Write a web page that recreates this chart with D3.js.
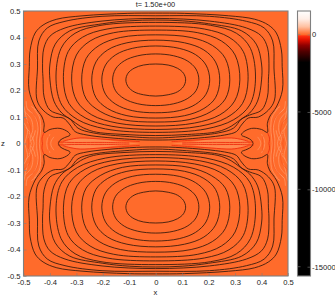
<!DOCTYPE html>
<html>
<head>
<meta charset="utf-8">
<script src="https://cdn.jsdelivr.net/npm/d3@7"></script>
<style>
  html, body { margin: 0; padding: 0; background: #fff; }
  text { font-family: "Liberation Sans", sans-serif; font-size: 7.6px; fill: #222; }
</style>
</head>
<body>
<div id="wrapper"></div>
<script>
// values, one quadrant as [|x|, z], top of loop round to bottom of loop
const loop1 = [[0,.300],[.047,.296],[.082,.284],[.105,.265],[.113,.24],[.105,.215],[.082,.195],[.047,.184],[0,.179]]
const loop2 = [[0,.338],[.068,.331],[.119,.312],[.152,.281],[.163,.24],[.152,.199],[.119,.169],[.068,.15],[0,.143]]
const loop3 = [[0,.368],[.089,.359],[.151,.335],[.19,.296],[.204,.24],[.19,.186],[.151,.148],[.089,.124],[0,.116]]
const loop4 = [[0,.390],[.109,.38],[.182,.353],[.226,.308],[.242,.24],[.226,.173],[.182,.132],[.109,.105],[0,.096]]
const loop5 = [[0,.410],[.134,.40],[.214,.37],[.263,.321],[.28,.24],[.263,.168],[.21,.121],[.126,.09],[0,.081]]
const loop6 = [[0,.428],[.159,.418],[.248,.387],[.30,.334],[.318,.24],[.298,.16],[.242,.108],[.146,.077],[0,.066]]
const loop7 = [[0,.443],[.184,.432],[.277,.401],[.331,.347],[.349,.24],[.328,.151],[.267,.097],[.166,.065],[0,.053]]
const loop8 = [[0,.457],[.207,.446],[.305,.416],[.358,.359],[.377,.24],[.355,.145],[.295,.09],[.19,.055],[0,.042]]
const loop9 = [[0,.466],[.10,.463],[.20,.452],[.325,.425],[.38,.375],[.40,.30],[.40,.24],[.385,.16],[.355,.115],[.32,.09],[.285,.065],[.235,.045],[.12,.034],[0,.030]]
const loop10 = [[0,.472],[.203,.462],[.343,.436],[.40,.405],[.423,.36],[.428,.285],[.426,.243],[.422,.175],[.40,.126],[.354,.107],[.324,.092],[.294,.058],[.237,.04],[.10,.026],[0,.021]]
const loop11 = [[0,.482],[.203,.48],[.343,.461],[.41,.436],[.442,.387],[.447,.285],[.449,.164],[.426,.126],[.388,.10],[.35,.096],[.324,.07],[.305,.045],[.26,.032],[.10,.016],[0,.013]]
const closedLoops = [loop1, loop2, loop3, loop4, loop5, loop6, loop7, loop8, loop9, loop10, loop11]

// outermost line runs over the vortex head and ends in the C of the curl on z=0
const outerLine = [[0,.492],[.108,.491],[.275,.482],[.374,.469],[.426,.447],[.456,.417],[.475,.353],[.478,.29],[.479,.202],[.456,.138],[.43,.10],[.422,.075],[.422,.042],[.40,.053],[.362,.057],[.331,.043],[.324,.032],[.345,.022],[.362,.012],[.368,0]]

// pale filaments in the side regions
const paleFilaments = [
  [[.495,.12],[.47,.09],[.465,.05],[.475,.02],[.47,0]],
  [[.485,.13],[.455,.10],[.445,.06],[.45,.02],[.45,0]],
  [[.46,.13],[.44,.10],[.435,.06],[.438,.025],[.44,0]],
  [[.5,.08],[.485,.05],[.49,.02],[.495,0]],
  [[.48,.04],[.465,.02],[.46,0]],
  [[.40,.035],[.41,.015],[.412,0]],
  [[.385,.025],[.395,.01],[.397,0]],
  [[.498,.14],[.49,.10],[.482,.075]],
  [[.47,.14],[.45,.125]],
  [[.49,.16],[.485,.13],[.465,.115]],
  [[.492,.06],[.475,.04],[.482,.02]],
  [[.455,.05],[.46,.03],[.47,.01]]
]
const darkFilaments = [
  [[.50,.10],[.478,.075],[.472,.045],[.482,.015],[.48,0]],
  [[.475,.125],[.448,.09],[.44,.05],[.444,.015],[.445,0]],
  [[.405,.03],[.403,.012],[.405,0]],
  [[.455,.14],[.432,.11],[.43,.07]]
]
// red edges: head of the vortex and the jet
const redFilaments = [
  [[.422,.042],[.43,.02],[.428,0]],
  [[.35,.008],[.33,.014],[.286,.021],[.21,.017],[.13,.012],[.06,.007]],
  [[.37,.006],[.32,.004],[.20,.004],[.10,.002]]
]
const jetBand = [[.35,0],[.35,.008],[.33,.014],[.286,.02],[.21,.016],[.13,.006],[.06,0]]

const xTicks = [-0.5, -0.4, -0.3, -0.2, -0.1, 0, 0.1, 0.2, 0.3, 0.4, 0.5]
const zTicks = [-0.5, -0.4, -0.3, -0.2, -0.1, 0, 0.1, 0.2, 0.3, 0.4, 0.5]
const barTicks = [0, -5000, -10000, -15000]
const barValues = [1520, 1000, 500, 100, 0, -100, -350, -700, -1100, -1800, -15600]
const barColors = ["#ffffff", "#ffeee6", "#ffc0a0", "#ff7a40", "#ff6b2b", "#ff3010", "#e01000", "#900000", "#500000", "#000000", "#000000"]

const title = "t=  1.50e+00"

const dimensions = {
  width: 335, height: 296,
  left: 23.5, right: 288, top: 11, bottom: 276,
  barLeft: 297.5, barRight: 310.5,
}

const svg = d3.select("#wrapper").append("svg")
  .attr("width", dimensions.width)
  .attr("height", dimensions.height)
  .style("display", "block")

const xScale = d3.scaleLinear().domain([-0.5, 0.5]).range([dimensions.left, dimensions.right])
const zScale = d3.scaleLinear().domain([-0.5, 0.5]).range([dimensions.bottom, dimensions.top])
const barScale = d3.scaleLinear().domain([1520, -15600]).range([dimensions.top, dimensions.bottom])

svg.append("clipPath").attr("id", "plot-clip").append("rect")
  .attr("x", dimensions.left).attr("y", dimensions.top)
  .attr("width", dimensions.right - dimensions.left)
  .attr("height", dimensions.bottom - dimensions.top)

const plot = svg.append("g").attr("clip-path", "url(#plot-clip)")

plot.append("rect")
  .attr("x", dimensions.left).attr("y", dimensions.top)
  .attr("width", dimensions.right - dimensions.left)
  .attr("height", dimensions.bottom - dimensions.top)
  .attr("fill", "#ff6b2b")

const openLine = d3.line().x(d => xScale(d[0])).y(d => zScale(d[1])).curve(d3.curveCatmullRom.alpha(0.5))
const closedLine = d3.line().x(d => xScale(d[0])).y(d => zScale(d[1])).curve(d3.curveCatmullRomClosed.alpha(0.5))
const bandArea = d3.line().x(d => xScale(d[0])).y(d => zScale(d[1])).curve(d3.curveLinearClosed)

// the picture is close to symmetric about both axes
const flips = [[1, 1], [-1, 1], [1, -1], [-1, -1]]
const flipped = (pts, [sx, sz]) => pts.map(d => [d[0] * sx, d[1] * sz])

const drawFilaments = (list, flip, color, width) => {
  list.forEach(f => {
    plot.append("path").attr("d", openLine(flipped(f, flip)))
      .attr("fill", "none").attr("stroke", color).attr("stroke-width", width)
  })
}

flips.forEach(flip => {
  plot.append("path").attr("d", bandArea(flipped(jetBand, flip))).attr("fill", "#ff8a50")
  drawFilaments(paleFilaments, flip, "#ff9c6c", 0.7)
  drawFilaments(darkFilaments, flip, "#f5501c", 0.6)
  drawFilaments(redFilaments, flip, "#ee3010", 0.9)
})

// each loop closes over one half of the box: left quadrant, then the right one backwards
const contourStyle = path => path
  .attr("fill", "none")
  .attr("stroke", "#33190c")
  .attr("stroke-width", 0.85)

;[1, -1].forEach(sz => {
  closedLoops.forEach(loop => {
    const left = flipped(loop, [-1, sz])
    const right = flipped(loop, [1, sz]).slice(1, -1).reverse()
    plot.append("path").attr("d", closedLine([...left, ...right])).call(contourStyle)
  })
  const outerLeft = flipped(outerLine, [-1, sz]).reverse()
  const outerRight = flipped(outerLine, [1, sz]).slice(1)
  plot.append("path").attr("d", openLine([...outerLeft, ...outerRight])).call(contourStyle)
})

// colour bar
const gradient = svg.append("defs").append("linearGradient")
  .attr("id", "bar-gradient").attr("x1", 0).attr("x2", 0).attr("y1", 0).attr("y2", 1)
barValues.forEach((v, i) => {
  gradient.append("stop")
    .attr("offset", (barScale(v) - dimensions.top) / (dimensions.bottom - dimensions.top))
    .attr("stop-color", barColors[i])
})
svg.append("rect")
  .attr("x", dimensions.barLeft).attr("y", dimensions.top)
  .attr("width", dimensions.barRight - dimensions.barLeft)
  .attr("height", dimensions.bottom - dimensions.top)
  .attr("fill", "url(#bar-gradient)")

// frames
const frameColor = "#808080"
svg.append("rect")
  .attr("x", dimensions.left).attr("y", dimensions.top)
  .attr("width", dimensions.right - dimensions.left)
  .attr("height", dimensions.bottom - dimensions.top)
  .attr("fill", "none").attr("stroke", frameColor).attr("stroke-width", 1.1)
svg.append("rect")
  .attr("x", dimensions.barLeft).attr("y", dimensions.top)
  .attr("width", dimensions.barRight - dimensions.barLeft)
  .attr("height", dimensions.bottom - dimensions.top)
  .attr("fill", "none").attr("stroke", frameColor).attr("stroke-width", 1.1)

// axes
const styleAxis = g => {
  g.select(".domain").remove()
  g.selectAll("line").attr("stroke", frameColor).attr("stroke-width", 0.6)
}
const tickLabel = d => d === 0 ? "0" : d3.format(".1f")(d).replace("−", "-")

svg.append("g")
  .attr("transform", `translate(0,${dimensions.bottom})`)
  .call(d3.axisBottom(xScale).tickValues(xTicks).tickFormat(tickLabel).tickSizeInner(-3).tickSizeOuter(0).tickPadding(4))
  .call(styleAxis)

svg.append("g")
  .attr("transform", `translate(${dimensions.left},0)`)
  .call(d3.axisLeft(zScale).tickValues(zTicks).tickFormat(tickLabel).tickSizeInner(-3).tickSizeOuter(0).tickPadding(3))
  .call(styleAxis)

const barAxis = svg.append("g")
  .attr("transform", `translate(${dimensions.barRight},0)`)
  .call(d3.axisRight(barScale).tickValues(barTicks).tickFormat(d => String(d)).tickSizeInner(-3).tickSizeOuter(0).tickPadding(4))
  .call(styleAxis)
barAxis.selectAll("text").attr("x", 1.5)

svg.selectAll("g text").attr("font-size", null).attr("font-family", null)

svg.append("g").selectAll("line").data(barTicks).join("line")
  .attr("x1", dimensions.barLeft).attr("x2", dimensions.barLeft + 3)
  .attr("y1", d => barScale(d)).attr("y2", d => barScale(d))
  .attr("stroke", frameColor).attr("stroke-width", 0.6)

// titles
svg.append("text").text(title)
  .attr("x", 155.5).attr("y", 6.5).attr("text-anchor", "middle").style("font-size", "7.4px")
svg.append("text").text("x")
  .attr("x", 155.5).attr("y", 295).attr("text-anchor", "middle")
svg.append("text").text("z")
  .attr("x", 3).attr("y", 146).attr("text-anchor", "middle")
</script>
</body>
</html>
